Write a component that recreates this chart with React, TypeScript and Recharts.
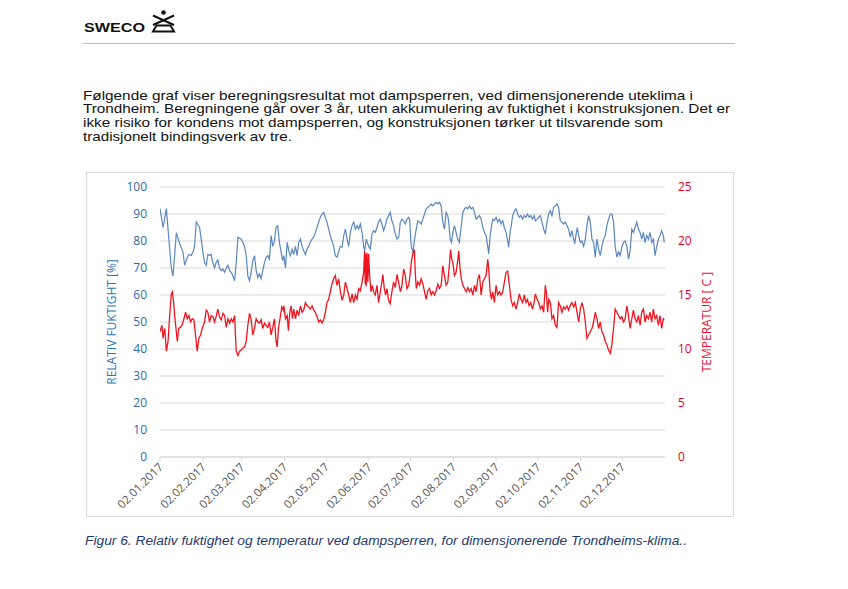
import React from 'react';
import { ComposedChart, Line, XAxis, YAxis, CartesianGrid } from 'recharts';

// day offset from 02.01.2017
const RH_POINTS: [number, number][] = [
  [0, 92], [2.2, 85], [4.6, 92], [6.5, 80], [8.2, 70], [9.4, 67], [11.8, 83], [14.2, 79], [16.6, 76], [17.8, 71],
  [19, 73], [20.7, 75], [22.6, 74.6], [23.8, 76], [25, 78], [26.2, 87], [27.4, 86], [28.6, 85], [29.8, 80.7], [31, 76],
  [32.2, 72], [33.4, 71], [34.6, 75], [35.8, 74.6], [37, 75], [38.2, 72], [39.4, 70], [40.6, 72], [41.8, 73], [43, 70],
  [44.3, 69], [45.5, 69.6], [46.7, 68.4], [47.9, 70], [49.1, 71], [50.3, 69], [51.5, 68.4], [52.7, 67], [53.9, 65.3], [55.1, 72],
  [56.3, 81.4], [57.5, 81], [58.7, 80.7], [59.9, 79.5], [61.1, 78], [62.3, 74.6], [63.5, 67], [64.7, 65.3], [65.9, 68.4], [67.1, 72.7],
  [68.3, 74.6], [69.5, 69], [70.7, 66.5], [71.9, 67.8], [73.1, 66], [74.3, 69], [75.5, 72], [76.7, 74], [77.9, 74.6], [79.1, 73.3],
  [80.3, 82], [81.5, 78], [82.7, 80], [83.9, 85], [85.1, 85.7], [86.3, 79.5], [87.5, 76], [88.7, 72.7],
  [89.5, 74.6], [90.7, 70], [91.9, 79.5], [93.1, 76.4], [94.3, 74.6], [95.5, 77], [96.7, 75], [97.9, 78], [99.1, 74.6], [100.3, 79.5],
  [101.5, 80.7], [102.7, 78], [103.9, 76.4], [105.1, 75], [106.3, 77], [107.5, 78], [108.7, 79.5], [109.9, 80.7], [111.1, 81.4], [112.3, 83.2],
  [113.5, 85], [114.7, 87], [115.9, 88.8], [117.1, 90], [118.3, 90.6], [119.5, 88.8], [120.7, 87], [121.9, 84.4], [123.1, 82], [124.3, 80],
  [125.5, 78], [126.7, 74.6], [127.9, 74], [129.1, 76], [130.3, 78], [131.6, 77.7], [132.8, 82], [134, 84.4], [135.2, 80.7], [136.4, 78],
  [137.6, 83.2], [138.8, 85.7], [140, 87], [141.2, 84.4], [142.4, 85.7], [143.6, 84.4], [144.8, 86.3], [146, 83.2], [147.2, 78], [147.9, 76.4],
  [149.1, 80.7], [150.8, 78], [152, 77], [153.2, 82.6], [154.4, 83.8], [155.6, 83.2], [156.8, 85], [158, 87], [159.2, 88.1], [160.4, 86.3],
  [161.6, 83.8], [162.8, 85.7], [164, 88.1], [165.2, 89.4], [166.4, 90.6], [167.6, 87.5], [168.8, 85.7], [170.1, 82.6], [171.3, 80.7], [172.5, 81.4],
  [173.7, 87], [174.9, 88.1], [176.1, 87.5], [177.3, 86.3], [178.5, 88.1], [179.7, 88.8],
  [180.4, 88.1], [181.6, 78], [182.8, 76], [184, 80.7], [185.2, 84.4], [186.4, 87.5], [187.6, 87], [188.8, 86.3], [190, 88.1], [191.2, 90],
  [192.4, 91.9], [193.6, 92.5], [194.8, 93], [196, 93.7], [197.2, 93], [198.4, 93.7], [199.6, 94.3], [200.8, 93.7], [202, 94.3], [203.2, 93],
  [204.4, 87], [205.6, 84.4], [206.8, 90.6], [208, 89.4], [208.7, 87], [209.7, 80.7], [210.7, 79.5], [211.7, 83.2], [212.8, 85.7], [214, 83.2],
  [215.2, 80.7], [216.4, 79.5], [217.6, 85], [218.9, 90.6], [220.1, 91.9], [221.3, 92.5], [222.5, 91.9], [223.7, 93], [224.9, 91.9], [226.1, 92.5],
  [227.3, 90.6], [228.5, 88.1], [229.7, 88.8], [230.9, 89.4], [232.1, 88.1], [233.3, 85], [234.5, 83.2], [235.7, 82], [236.9, 78], [237.6, 75.2],
  [238.6, 82], [239.6, 85.7], [240.5, 88.1], [241.7, 87.5], [242.9, 88.8], [244.1, 87], [245.3, 88.1], [246.5, 86.3], [247.7, 87.5], [248.9, 85],
  [250.1, 83.2], [251.3, 80], [252, 77.7], [253, 83.2], [253.9, 85.7], [254.9, 89.4], [256.1, 91.2], [257.3, 91.9], [258.5, 90], [259.7, 88.8],
  [260.9, 89.4], [262.1, 88.1], [263.3, 89.4], [264.5, 88.8], [265.6, 90], [266.8, 88.8], [268, 89.4], [269.2, 88.1], [270.4, 89.4],
  [271.3, 87.5], [272.5, 88.1], [273.7, 88.8], [274.9, 89.4], [276.1, 87], [277.3, 84.4], [278.5, 82.6], [279.7, 87], [280.9, 90], [282.1, 91.2],
  [283.3, 89.4], [284.5, 92.5], [285.7, 93], [286.9, 93.7], [288.1, 92.5], [289.3, 87.5], [290.5, 87], [291.7, 86.3], [292.9, 87], [294.1, 85.7],
  [295.3, 84.4], [296.5, 81.4], [297.7, 83.8], [299, 80.7], [299.7, 78.9], [300.6, 82], [301.6, 85], [302.6, 82], [303.8, 79.5], [305, 80],
  [306.2, 78], [307.4, 80.7], [308.6, 85.7], [309.8, 89.4], [311, 87], [312.2, 80.7], [313.4, 79.5], [314.6, 74], [315.8, 80.7], [317, 77],
  [318.2, 74.6], [319.4, 78], [320.6, 80.7], [321.8, 82], [323, 85.7], [324.2, 88.1], [325.4, 90], [326.6, 90], [327.8, 87], [329, 78],
  [330.2, 74], [331.4, 76], [332.6, 74.6], [333.8, 77.7], [335, 79.5], [336.2, 80], [337.4, 78], [338.6, 73.3], [339.8, 76.4], [341, 84.4],
  [342.2, 83.2], [343.4, 85], [344.6, 87], [345.8, 84.4], [347, 83.2], [348.2, 80.7], [349.4, 83.2], [350.6, 79.5], [351.8, 82], [353, 80.7],
  [354.2, 83.2], [355.4, 79.5], [356.6, 80.7], [357.8, 74.6], [359, 78], [360.2, 80.7], [361.4, 82], [362.6, 83.8], [363.8, 82], [364.5, 79.5],
];

const TEMP_POINTS: [number, number][] = [
  [0, 11.6], [1.4, 12.2], [2.2, 11], [3.4, 11.9], [4.6, 9.8], [5.8, 10.7], [7, 13.1], [8.2, 15.1], [8.9, 15.3], [9.9, 14.3],
  [10.6, 13.1], [11.8, 11.6], [12.5, 10.7], [13.5, 11.9], [14.7, 12], [15.9, 12.2], [17.3, 12.8], [18.5, 13.4], [19.7, 12.8], [20.9, 13.1],
  [22.1, 12.5], [23.3, 12.8], [24.5, 12.7], [25.7, 11.3], [26.9, 9.8], [28.1, 11], [29.3, 11.3], [30.5, 11.9], [32.2, 12.5], [33.4, 13.6],
  [34.6, 13.4], [35.8, 12.5], [37, 13.1], [38.2, 13], [39.4, 12.5], [40.6, 13], [41.8, 13.7], [43, 13], [44.3, 12.7], [45.5, 13.3],
  [46.7, 13.1], [47.9, 12], [49.1, 12.8], [50.3, 12.4], [51.5, 12.8], [52.7, 12.5], [53.9, 13.1], [55.1, 9.8], [56.3, 9.4], [57.5, 9.8],
  [58.7, 9.9], [59.9, 10.1], [61.1, 10.2], [62.3, 10.7], [63.5, 12.2], [64.7, 13.3], [65.9, 12.7], [67.1, 11.3], [68.3, 11.9], [69.5, 12.8],
  [70.7, 12.5], [71.9, 12.4], [73.1, 12.7], [74.3, 11.9], [75.5, 12.4], [76.7, 12.2], [77.9, 12], [79.1, 12.5], [80.3, 11.3], [81.5, 12],
  [82.7, 12.8], [83.9, 10.7], [84.7, 10.2], [85.6, 11.9], [87.1, 13.1], [88, 13.9], [89.2, 13.6],
  [89.5, 14], [90.7, 12.8], [91.9, 13.1], [92.8, 11.7], [93.8, 13.4], [94.8, 14], [95.7, 12.8], [96.7, 13.7], [97.9, 12.8], [99.1, 13.6],
  [100.3, 13.1], [101.5, 14], [102.7, 13.4], [103.9, 13.6], [105.1, 14.3], [106.3, 14], [107.5, 13.9], [108.7, 13.7], [109.9, 14], [111.1, 13.6],
  [112.3, 13.4], [113.5, 13], [114.7, 12.5], [115.9, 12.7], [117.1, 12.4], [118.3, 12.7], [119.5, 13.4], [120.7, 14.3], [121.9, 14.6], [123.1, 15.3],
  [124.3, 16], [125.5, 16.5], [126.7, 16.8], [127.9, 15.9], [129.1, 16.5], [130.3, 15.4], [131.6, 14.5], [132.8, 15], [134, 16.2], [135.2, 15.6],
  [136.4, 15], [137.6, 14.3], [138.8, 15.1], [140, 14.3], [141.2, 15], [142.4, 14.6], [143.6, 15.6], [144.8, 15.4], [146, 16.2], [147.2, 17.1],
  [147.9, 19.1], [148.3, 16], [148.6, 18.8], [149, 15.8], [149.6, 18.9], [150.2, 16.2], [150.8, 18.8], [151.5, 16.8], [152.5, 15.3], [153.4, 15.9],
  [154.4, 15.3], [155.6, 15], [156.8, 15.9], [158, 14.3], [159.2, 15.3], [160.4, 16.2], [161.1, 16.9], [162.1, 15.6], [163.1, 15], [164, 15.6],
  [165.2, 14.5], [166.4, 14.2], [167.6, 15.3], [168.8, 16.2], [170.1, 15.7], [171.3, 16.9], [172.5, 16.2], [173.7, 15.3], [174.9, 15.9], [176.1, 17.4],
  [177.3, 16.8], [178.5, 15.6], [179.7, 15.9],
  [180.4, 16.5], [181.6, 18], [182.8, 18.9], [183.8, 19.2], [184.5, 17.1], [185.2, 15.6], [186.4, 16.2], [187.6, 15.9], [188.8, 16.5], [190, 16],
  [191.2, 15.3], [192.4, 14.6], [193.6, 15.4], [194.8, 15.6], [196, 15], [197.2, 15.3], [198.4, 15], [199.6, 15.4], [200.8, 16], [202, 15.6],
  [203.2, 15.9], [204.4, 17.7], [205.6, 16.8], [206.8, 15.9], [208, 16.2], [209.3, 18], [210, 19.2], [210.9, 18.3], [211.7, 18], [212.8, 16.8],
  [214, 17.1], [215.2, 18.2], [215.9, 19.1], [216.9, 17.4], [217.8, 16.5], [218.9, 15.9], [220.1, 15.6], [221.3, 15.3], [222.5, 15.7], [223.7, 15.3],
  [224.9, 15.6], [226.1, 15], [227.3, 15.9], [228.5, 15.3], [229.7, 16.5], [230.9, 16.9], [232.1, 15], [233.3, 16.2], [234.5, 16.5], [235.7, 16.8],
  [236.9, 18.3], [237.6, 17.4], [238.6, 15.3], [239.6, 14.6], [240.5, 15.3], [241.7, 14.3], [242.9, 15.9], [244.1, 15], [245.3, 15.3], [246.5, 15],
  [247.7, 15.3], [248.9, 16.2], [250.1, 17.1], [251.3, 17.2], [252.5, 15.9], [253.7, 14.6], [254.9, 14], [256.1, 14.3], [257.3, 13.7], [258.5, 14.3],
  [259.7, 15.1], [260.9, 14.6], [262.1, 14.3], [263.3, 15], [264.5, 14.3], [265.6, 14.6], [266.8, 14], [268, 14.3], [269.2, 13.7], [270.4, 14.3],
  [271.3, 15.1], [272.5, 14.6], [273.7, 14.3], [274.9, 13.7], [276.1, 14], [277.3, 13.4], [278.5, 15.9], [279.2, 15.3], [280.2, 13.4], [280.9, 14.6],
  [282.1, 14.3], [283.3, 12.8], [284.5, 13.1], [285.7, 12.2], [286.9, 12], [288.1, 14.3], [289.3, 14], [290.5, 13.4], [291.7, 13.9], [292.9, 13.7],
  [294.1, 14], [295.3, 13.6], [296.5, 14], [297.7, 14.3], [299, 13.9], [300.2, 14.3], [301.4, 13.4], [302.6, 12.5], [303.8, 13.7], [305, 14.3],
  [306.2, 13.7], [307.4, 12.5], [308.6, 11], [309.8, 11.3], [311, 11.6], [312.2, 11.9], [313.4, 12.5], [314.6, 13.4], [315.8, 12.8], [317, 11.9],
  [318.2, 12.5], [319.4, 11.6], [320.6, 11.3], [321.8, 10.7], [323, 10.4], [324.2, 9.9], [325.4, 9.6], [326.6, 10.4], [327.8, 11.9], [329, 13.7],
  [330.2, 13.4], [331.4, 13.1], [332.6, 12.8], [333.8, 13], [335, 12.5], [336.2, 12.8], [337.4, 14], [338.6, 13.1], [339.8, 11.9], [341, 12.8],
  [342.2, 13.6], [343.4, 12.8], [344.6, 12.5], [345.8, 13.1], [347, 12.2], [348.2, 13.4], [349.4, 13.7], [350.6, 12.5], [351.8, 13.1], [353, 12.8],
  [354.2, 13.4], [355.4, 12.5], [356.6, 13.7], [357.8, 12.8], [359, 13.1], [360.2, 12.2], [361.4, 13.1], [362.6, 11.9], [363.8, 12.8], [364.5, 12.7],
];

const TICK_DAYS = [0, 31, 59, 90, 120, 151, 181, 212, 243, 273, 304, 334];
const TICK_LABELS = [
  '02.01.2017', '02.02.2017', '02.03.2017', '02.04.2017', '02.05.2017', '02.06.2017',
  '02.07.2017', '02.08.2017', '02.09.2017', '02.10.2017', '02.11.2017', '02.12.2017',
];
const RH_TICKS = [0, 10, 20, 30, 40, 50, 60, 70, 80, 90, 100];
const TEMP_TICKS = [0, 5, 10, 15, 20, 25];

const PARAGRAPH = [
  'Følgende graf viser beregningsresultat mot dampsperren, ved dimensjonerende uteklima i',
  'Trondheim. Beregningene går over 3 år, uten akkumulering av fuktighet i konstruksjonen. Det er',
  'ikke risiko for kondens mot dampsperren, og konstruksjonen tørker ut tilsvarende som',
  'tradisjonelt bindingsverk av tre.',
];
const CAPTION = 'Figur 6. Relativ fuktighet og temperatur ved dampsperren, for dimensjonerende Trondheims-klima..';

const rhData = RH_POINTS.map(([d, v]) => ({ d, v }));
const tempData = TEMP_POINTS.map(([d, v]) => ({ d, v }));

const BLUE = '#5b87c0';
const RED = '#f0141e';
const FONT = '"Open Sans", "DejaVu Sans", sans-serif';
const SANS = '"Liberation Sans", Arial, sans-serif';

const DateTick = (props: any) => {
  const { x, y, payload } = props;
  const i = TICK_DAYS.indexOf(payload.value);
  return (
    <g transform={`translate(${x + 1},${y + 2})`}>
      <text textAnchor="end" transform="rotate(-45)" dy={4} fill="#555" fontSize={11.5} fontFamily={FONT}>
        {TICK_LABELS[i]}
      </text>
    </g>
  );
};

// widths of each text line measured in the reference
const LINE_WIDTHS = [610, 647, 580, 209];

const Page: React.FC = () => (
  <svg width={848} height={589} style={{ position: 'absolute', left: 0, top: 0 }}>
    <text x={84} y={32} fontFamily={SANS} fontWeight={700} fontSize={13}
      textLength={61} lengthAdjust="spacingAndGlyphs" fill="#111">SWECO</text>
    {/* logo mark */}
    <circle cx={163.5} cy={12.5} r={2.3} fill="#111" />
    <line x1={153} y1={15.5} x2={174} y2={25} stroke="#111" strokeWidth={2} />
    <line x1={174} y1={15.5} x2={153} y2={25} stroke="#111" strokeWidth={2} />
    <path d="M153,31.5 L174,31.5 L170.5,25.5 L156.5,25.5 Z" fill="none" stroke="#111" strokeWidth={2} />
    <line x1={83} y1={43.5} x2={735} y2={43.5} stroke="#bdbdbd" strokeWidth={1} />
    {PARAGRAPH.map((t, i) => (
      <text key={i} x={83} y={99.5 + i * 13.7} fontFamily={SANS} fontSize={13}
        textLength={LINE_WIDTHS[i]} lengthAdjust="spacingAndGlyphs" fill="#111">{t}</text>
    ))}
    <text x={85} y={545} fontFamily={SANS} fontStyle="italic" fontSize={12}
      textLength={602} lengthAdjust="spacingAndGlyphs" fill="#1f3a6e">{CAPTION}</text>
    <rect x={86.5} y={172.5} width={647} height={344} fill="none" stroke="#d9d9d9" />
  </svg>
);

export default function App() {
  return (
    <div style={{ position: 'absolute', left: 0, top: 0, width: 848, height: 589, background: '#fff', overflow: 'hidden' }}>
      <Page />
      <div style={{ position: 'absolute', left: 86, top: 172 }}>
        <ComposedChart width={648} height={345} margin={{ top: 15, right: 0, bottom: 0, left: 0 }}>
          <CartesianGrid yAxisId="rh" horizontal vertical={false} stroke="#d9d9d9" />
          <XAxis
            type="number"
            dataKey="d"
            domain={[0, 365]}
            ticks={TICK_DAYS}
            tick={<DateTick />}
            interval={0}
            height={60}
            stroke="#d9d9d9"
            tickSize={4}
            allowDataOverflow
          />
          <YAxis
            yAxisId="rh"
            domain={[0, 100]}
            ticks={RH_TICKS}
            width={74}
            axisLine={false}
            tickLine={false}
            tickMargin={7}
            tick={{ fill: '#2e6aa8', fontSize: 12, fontFamily: FONT }}
            label={{ value: 'RELATIV FUKTIGHT [%]', angle: -90, position: 'center', dx: -11, fill: '#2e75b6', fontSize: 12, fontFamily: FONT }}
          />
          <YAxis
            yAxisId="t"
            orientation="right"
            domain={[0, 25]}
            ticks={TEMP_TICKS}
            width={69}
            axisLine={false}
            tickLine={false}
            tickMargin={7}
            tick={{ fill: '#e0001b', fontSize: 12, fontFamily: FONT }}
            label={{ value: 'TEMPERATUR [ C ]', angle: -90, position: 'center', dx: 7, fill: '#e8112d', fontSize: 12, fontFamily: FONT }}
          />
          <Line yAxisId="rh" data={rhData} dataKey="v" type="linear" stroke={BLUE} strokeWidth={1.2} dot={false} isAnimationActive={false} />
          <Line yAxisId="t" data={tempData} dataKey="v" type="linear" stroke={RED} strokeWidth={1.3} dot={false} isAnimationActive={false} />
        </ComposedChart>
      </div>
    </div>
  );
}
